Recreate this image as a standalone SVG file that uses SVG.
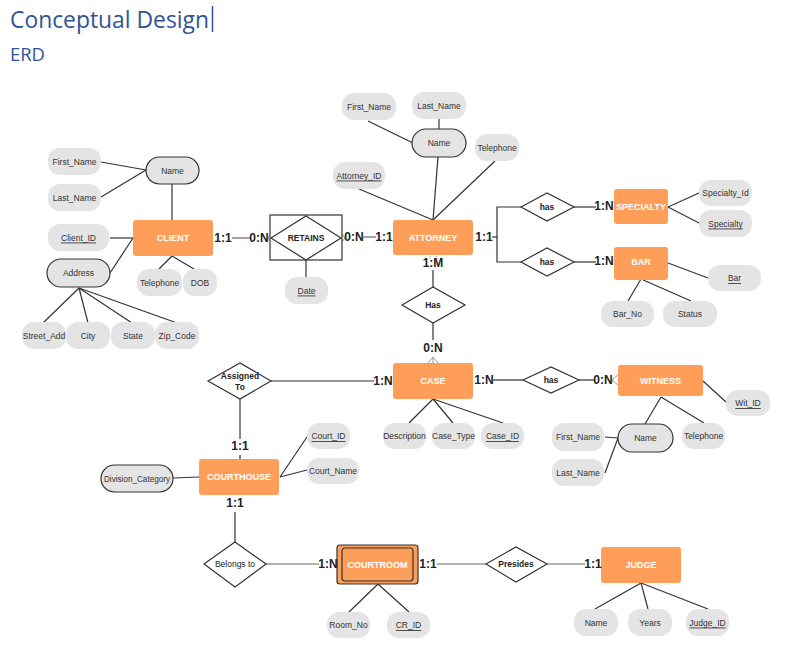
<svg xmlns="http://www.w3.org/2000/svg" width="789" height="667" viewBox="0 0 789 667">
<style>
.ent{fill:#FE9E58;rx:3px}
.et{fill:#fff;font:bold 9px "Liberation Sans",Arial,sans-serif;text-anchor:middle;dominant-baseline:central}
.att{fill:#E4E4E4}
.attb{fill:#E4E4E4;stroke:#333;stroke-width:1.2}
.at{fill:#333;font:8.5px "Liberation Sans",Arial,sans-serif;text-anchor:middle;dominant-baseline:central}
.u{text-decoration:underline}
.rel{fill:#fff;stroke:#333;stroke-width:1.2}
.rt{fill:#222;font:bold 8.5px "Liberation Sans",Arial,sans-serif;text-anchor:middle;dominant-baseline:central}
.rtn{fill:#222;font:8.5px "Liberation Sans",Arial,sans-serif;text-anchor:middle;dominant-baseline:central}
.card{fill:#222;font:bold 12px "Liberation Sans",Arial,sans-serif;text-anchor:middle;dominant-baseline:central}
#connectors line,#connectors polyline{stroke:#333;stroke-width:1.2;fill:none}
#connectors .g{stroke:#666}
.cf{stroke:#999;stroke-width:1;fill:none}
</style>
<text x="10" y="28" font-family="Open Sans, Liberation Sans, sans-serif" font-size="23" fill="#2F5496" textLength="199" lengthAdjust="spacingAndGlyphs">Conceptual Design</text>
<line x1="212.5" y1="6" x2="212.5" y2="32" stroke="#2F5496" stroke-width="1.5"/>
<text x="10" y="61" font-family="Open Sans, Liberation Sans, sans-serif" font-size="18" fill="#2F5496" textLength="35" lengthAdjust="spacingAndGlyphs">ERD</text>

<g id="connectors">
<line x1="101" y1="162" x2="146" y2="170"/>
<line x1="101" y1="197" x2="146" y2="170"/>
<line x1="172" y1="184" x2="172" y2="220"/>
<line x1="110" y1="238" x2="133" y2="238"/>
<line x1="110" y1="273" x2="133" y2="238"/>
<line x1="79" y1="288" x2="43" y2="323"/>
<line x1="79" y1="288" x2="88" y2="323"/>
<line x1="79" y1="288" x2="132" y2="323"/>
<line x1="79" y1="288" x2="177" y2="323"/>
<line x1="172" y1="256" x2="159" y2="269"/>
<line x1="172" y1="256" x2="194" y2="269"/>
<line class="g" x1="232" y1="238" x2="250" y2="238"/>
<line x1="306" y1="260" x2="306" y2="277"/>
<line class="g" x1="363" y1="237" x2="376" y2="237"/>
<line x1="368" y1="121" x2="413" y2="143"/>
<line x1="439" y1="119" x2="439" y2="129"/>
<line x1="438" y1="157" x2="433" y2="220"/>
<line x1="495" y1="161" x2="433" y2="220"/>
<line x1="359" y1="189" x2="433" y2="220"/>
<polyline points="492,237 497,237"/>
<polyline points="521,207 497,207 497,262 521,262"/>
<line x1="574" y1="207" x2="596" y2="207"/>
<line x1="574" y1="262" x2="596" y2="262"/>
<line x1="668" y1="207" x2="699" y2="193"/>
<line x1="668" y1="207" x2="699" y2="223"/>
<line x1="668" y1="263" x2="708" y2="278"/>
<line x1="641" y1="279" x2="628" y2="301"/>
<line x1="641" y1="279" x2="691" y2="301"/>
<line x1="433" y1="270" x2="433" y2="287"/>
<line x1="433" y1="323" x2="433" y2="340"/>
<line x1="271" y1="381" x2="374" y2="381"/>
<line x1="493" y1="380" x2="523" y2="380"/>
<line x1="579" y1="380" x2="594" y2="380"/>
<line x1="433" y1="399" x2="409" y2="423"/>
<line x1="433" y1="399" x2="453" y2="423"/>
<line x1="433" y1="399" x2="503" y2="423"/>
<line x1="703" y1="381" x2="726" y2="402"/>
<line x1="661" y1="397" x2="645" y2="424"/>
<line x1="661" y1="397" x2="704" y2="423"/>
<line x1="605" y1="437" x2="618" y2="438"/>
<line x1="605" y1="473" x2="618" y2="438"/>
<line x1="240" y1="399" x2="240" y2="439"/>
<line x1="240" y1="455" x2="240" y2="459"/>
<line x1="280" y1="477" x2="307" y2="437"/>
<line x1="280" y1="477" x2="307" y2="470"/>
<line x1="173" y1="478" x2="199" y2="477"/>
<line x1="235" y1="512" x2="235" y2="542"/>
<line class="g" x1="266" y1="564" x2="319" y2="564"/>
<line class="g" x1="437" y1="564" x2="486" y2="564"/>
<line class="g" x1="547" y1="564" x2="585" y2="564"/>
<line x1="378" y1="584" x2="349" y2="612"/>
<line x1="378" y1="584" x2="409" y2="612"/>
<line x1="641" y1="583" x2="595" y2="609"/>
<line x1="641" y1="583" x2="648" y2="609"/>
<line x1="641" y1="583" x2="708" y2="609"/>
<path class="cf" d="M433,357 L428,363 M433,357 L433,363 M433,357 L438,363"/>
<path class="cf" d="M612,380 L618,375 M612,380 L618,385"/>
<path class="cf" d="M268,238 L271,234 M268,238 L271,242 M345,238 L342,234 M345,238 L342,242"/>
<path class="cf" d="M430,256 L430,260 M436,256 L436,260" stroke-dasharray="1,1"/>
</g>

<g id="client"><rect class="ent" x="133" y="220" width="80" height="36"/><text class="et" x="173" y="238">CLIENT</text></g>
<g id="client-name"><rect class="attb" x="146" y="157" width="53" height="27" rx="13.5"/><text class="at" x="172.5" y="170.5">Name</text></g>
<g id="client-first"><rect class="att" x="48" y="148" width="53" height="27" rx="12"/><text class="at" x="74.5" y="161.5">First_Name</text></g>
<g id="client-last"><rect class="att" x="48" y="184" width="53" height="27" rx="12"/><text class="at" x="74.5" y="197.5">Last_Name</text></g>
<g id="client-id"><rect class="att" x="48" y="224" width="61" height="27" rx="12"/><text class="at u" x="78.5" y="237.5">Client_ID</text></g>
<g id="client-address"><rect class="attb" x="47" y="259" width="63" height="28" rx="14"/><text class="at" x="78.5" y="273">Address</text></g>
<g id="client-tel"><rect class="att" x="137" y="269" width="45" height="27" rx="12"/><text class="at" x="159.5" y="282.5">Telephone</text></g>
<g id="client-dob"><rect class="att" x="183" y="269" width="34" height="27" rx="12"/><text class="at" x="200" y="282.5">DOB</text></g>
<g id="street"><rect class="att" x="22" y="322" width="44" height="27" rx="12"/><text class="at" x="44" y="335.5">Street_Add</text></g>
<g id="city"><rect class="att" x="66" y="322" width="44" height="27" rx="12"/><text class="at" x="88" y="335.5">City</text></g>
<g id="state"><rect class="att" x="111" y="322" width="44" height="27" rx="12"/><text class="at" x="133" y="335.5">State</text></g>
<g id="zip"><rect class="att" x="155" y="322" width="44" height="27" rx="12"/><text class="at" x="177" y="335.5">Zip_Code</text></g>

<g id="retains">
<rect x="270" y="215" width="72" height="45" fill="#fff" stroke="#333" stroke-width="1.2"/>
<polygon class="rel" points="271,238 306,216 341,238 306,260"/>
<text class="rt" x="306" y="238">RETAINS</text>
</g>
<g id="date"><rect class="att" x="285" y="277" width="43" height="27" rx="12"/><text class="at u" x="306.5" y="290.5">Date</text></g>

<g id="attorney"><rect class="ent" x="393" y="220" width="80" height="35"/><text class="et" x="433" y="237.5">ATTORNEY</text></g>
<g id="att-name"><rect class="attb" x="412" y="129" width="54" height="28" rx="14"/><text class="at" x="439" y="143">Name</text></g>
<g id="att-first"><rect class="att" x="342" y="93" width="54" height="27" rx="12"/><text class="at" x="369" y="106.5">First_Name</text></g>
<g id="att-last"><rect class="att" x="412" y="92" width="54" height="27" rx="12"/><text class="at" x="439" y="105.5">Last_Name</text></g>
<g id="att-tel"><rect class="att" x="475" y="134" width="44" height="27" rx="12"/><text class="at" x="497" y="147.5">Telephone</text></g>
<g id="att-id"><rect class="att" x="333" y="162" width="52" height="27" rx="12"/><text class="at u" x="359" y="175.5">Attorney_ID</text></g>

<g id="has-specialty"><polygon class="rel" points="521,207 547,193 574,207 547,221"/><text class="rt" x="547" y="207">has</text></g>
<g id="has-bar"><polygon class="rel" points="521,262 547,248 574,262 547,276"/><text class="rt" x="547" y="262">has</text></g>
<g id="specialty"><rect class="ent" x="614" y="189" width="54" height="35"/><text class="et" x="641" y="206.5">SPECIALTY</text></g>
<g id="bar"><rect class="ent" x="614" y="247" width="54" height="33"/><text class="et" x="641" y="262">BAR</text></g>
<g id="spec-id"><rect class="att" x="699" y="180" width="53" height="26" rx="12"/><text class="at" x="725.5" y="193">Specialty_Id</text></g>
<g id="spec-name"><rect class="att" x="699" y="210" width="53" height="27" rx="12"/><text class="at u" x="725.5" y="223.5">Specialty</text></g>
<g id="bar-attr"><rect class="att" x="708" y="265" width="53" height="26" rx="12"/><text class="at u" x="734.5" y="278">Bar</text></g>
<g id="bar-no"><rect class="att" x="601" y="301" width="53" height="26" rx="12"/><text class="at" x="627.5" y="314">Bar_No</text></g>
<g id="bar-status"><rect class="att" x="663" y="301" width="54" height="26" rx="12"/><text class="at" x="690" y="314">Status</text></g>

<g id="has-case"><polygon class="rel" points="402,305 433,287 465,305 433,323"/><text class="rt" x="433" y="305">Has</text></g>

<g id="case"><rect class="ent" x="393" y="363" width="80" height="36"/><text class="et" x="433" y="381">CASE</text></g>
<g id="case-desc"><rect class="att" x="383" y="423" width="43" height="26" rx="12"/><text class="at" x="404.5" y="436">Description</text></g>
<g id="case-type"><rect class="att" x="432" y="423" width="43" height="26" rx="12"/><text class="at" x="453.5" y="436">Case_Type</text></g>
<g id="case-id"><rect class="att" x="481" y="423" width="43" height="26" rx="12"/><text class="at u" x="502.5" y="436">Case_ID</text></g>

<g id="assigned-to"><polygon class="rel" points="208,381 240,363 271,381 240,399"/><text class="rt" x="240" y="376">Assigned</text><text class="rt" x="240" y="387">To</text></g>

<g id="has-witness"><polygon class="rel" points="523,380 551,367 579,380 551,393"/><text class="rt" x="551" y="380">has</text></g>
<g id="witness"><rect class="ent" x="618" y="365" width="85" height="31"/><text class="et" x="660.5" y="380.5">WITNESS</text></g>
<g id="wit-id"><rect class="att" x="726" y="390" width="44" height="26" rx="12"/><text class="at u" x="748" y="403">Wit_ID</text></g>
<g id="wit-name"><rect class="attb" x="618" y="424" width="55" height="28" rx="14"/><text class="at" x="645.5" y="438">Name</text></g>
<g id="wit-tel"><rect class="att" x="682" y="423" width="43" height="26" rx="12"/><text class="at" x="703.5" y="436">Telephone</text></g>
<g id="wit-first"><rect class="att" x="552" y="423" width="52" height="28" rx="12"/><text class="at" x="578" y="437">First_Name</text></g>
<g id="wit-last"><rect class="att" x="552" y="459" width="52" height="27" rx="12"/><text class="at" x="578" y="472.5">Last_Name</text></g>

<g id="courthouse"><rect class="ent" x="199" y="459" width="80" height="36"/><text class="et" x="239" y="477">COURTHOUSE</text></g>
<g id="court-id"><rect class="att" x="307" y="423" width="43" height="26" rx="12"/><text class="at u" x="328.5" y="436">Court_ID</text></g>
<g id="court-name"><rect class="att" x="307" y="458" width="52" height="26" rx="12"/><text class="at" x="333" y="471">Court_Name</text></g>
<g id="division"><rect class="attb" x="101" y="465" width="72" height="27" rx="13.5"/><text class="at" x="137" y="478.5" textLength="66" lengthAdjust="spacingAndGlyphs">Division_Category</text></g>

<g id="belongs-to"><polygon class="rel" points="204,564 235,542 266,564 235,587"/><text class="rtn" x="235" y="564">Belongs to</text></g>

<g id="courtroom">
<rect x="337" y="545" width="81" height="39" rx="3" fill="#FE9E58" stroke="#333" stroke-width="1.2"/>
<rect x="342" y="548" width="71" height="33" rx="3" fill="none" stroke="#333" stroke-width="1.2"/>
<text class="et" x="377.5" y="564.5">COURTROOM</text>
</g>
<g id="cr-room"><rect class="att" x="327" y="612" width="43" height="26" rx="12"/><text class="at" x="348.5" y="625">Room_No</text></g>
<g id="cr-id"><rect class="att" x="387" y="612" width="43" height="26" rx="12"/><text class="at u" x="408.5" y="625">CR_ID</text></g>

<g id="presides"><polygon class="rel" points="486,564 516,547 547,564 516,582"/><text class="rt" x="516" y="564">Presides</text></g>
<g id="judge"><rect class="ent" x="601" y="547" width="80" height="36"/><text class="et" x="641" y="565">JUDGE</text></g>
<g id="judge-name"><rect class="att" x="574" y="609" width="44" height="27" rx="12"/><text class="at" x="596" y="622.5">Name</text></g>
<g id="judge-years"><rect class="att" x="628" y="609" width="44" height="27" rx="12"/><text class="at" x="650" y="622.5">Years</text></g>
<g id="judge-id"><rect class="att" x="686" y="609" width="43" height="27" rx="12"/><text class="at u" x="707.5" y="622.5">Judge_ID</text></g>

<g id="cardinalities">
<text class="card" x="223" y="238">1:1</text>
<text class="card" x="259" y="238">0:N</text>
<text class="card" x="354" y="237">0:N</text>
<text class="card" x="384" y="237">1:1</text>
<text class="card" x="484" y="237">1:1</text>
<text class="card" x="604" y="206">1:N</text>
<text class="card" x="604" y="261">1:N</text>
<text class="card" x="433" y="263">1:M</text>
<text class="card" x="433" y="348">0:N</text>
<text class="card" x="383" y="381">1:N</text>
<text class="card" x="484" y="380">1:N</text>
<text class="card" x="603" y="380">0:N</text>
<text class="card" x="240" y="446">1:1</text>
<text class="card" x="235" y="503">1:1</text>
<text class="card" x="328" y="564">1:N</text>
<text class="card" x="428" y="564">1:1</text>
<text class="card" x="593" y="564">1:1</text>
</g>
</svg>
